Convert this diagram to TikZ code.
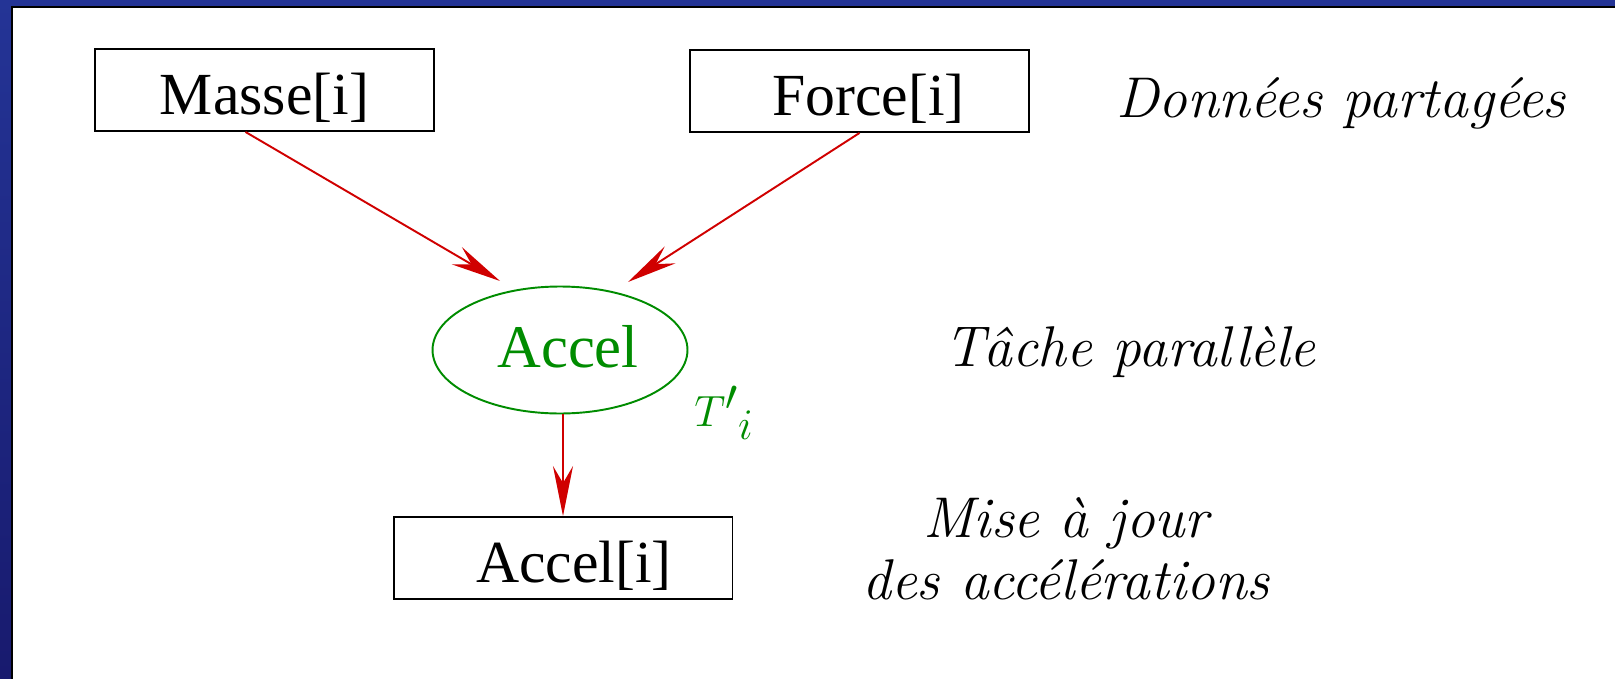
\documentclass[tikz,border=0pt]{standalone}
\usepackage{fontspec}
\newfontfamily\timesfont{Liberation Serif}
\usetikzlibrary{shapes.geometric,arrows.meta,calc}
\definecolor{framebleu}{RGB}{36,52,150}
\definecolor{framenuit}{RGB}{24,26,110}
\definecolor{fleche}{RGB}{208,0,0}
\definecolor{vert}{RGB}{0,140,0}
\tikzset{
  donnee/.style={draw,line width=1.1pt,minimum width=6.78cm,minimum height=1.64cm,inner sep=0pt,text height=28pt,text depth=0pt,font=\timesfont\fontsize{34}{40}\selectfont},
  tache/.style={ellipse,draw=vert,line width=1.1pt,text=vert,minimum width=5.1cm,minimum height=2.54cm,inner sep=0pt,text height=19.5pt,text depth=0pt,font=\timesfont\fontsize{34.5}{40}\selectfont},
  fl/.style={-{Stealth[length=1cm,width=0.4cm,inset=0.34cm]},fleche,line width=1.1pt},
  note/.style={font=\itshape\fontsize{32.7}{35}\selectfont,align=center}
}
\begin{document}
\begin{tikzpicture}[x=0.02cm,y=-0.02cm]
                      \useasboundingbox (0,0) rectangle (1615,679);
                      \fill[white] (0,0) rectangle (1615,679);
                      % cadre
                      \fill[framebleu] (0,0) rectangle (1615,6);
                      \shade[top color=framebleu,bottom color=framenuit] (0,0) rectangle (11,679);
                      \draw[line width=1.2pt] (12,679) -- (12,7) -- (1615,7);
                      \node[donnee](masse)at(264.5,90){Masse[i]};
                      \node[donnee](force)at(859.5,91){\hspace*{0.36cm}Force[i]};
                      \node[tache](accel)at(560,350){\hspace*{0.32cm}Accel};
                      \node[donnee](acceli)at(563,558){\hspace*{0.44cm}Accel[i]};
                      \node[text=vert,font=\fontsize{37}{40}\selectfont](ti)at(724,413){${T'}_i$};
                      \node[note](donnees)at(1341,103){Données partagées};
                      \node[note](tachepar)at(1130,352){Tâche parallèle};
                      \node[note](maj)at(1066,549){Mise à jour\\des accélérations};
                      \draw[fl]($(masse.south)+(-19,0)$)--($(accel)+(-60,-69)$);
                      \draw[fl](force.south)--($(accel)+(68,-68)$);
                      \draw[fl](acceli.north|-accel.south)--(acceli.north);
                  \end{tikzpicture}
\end{document}
